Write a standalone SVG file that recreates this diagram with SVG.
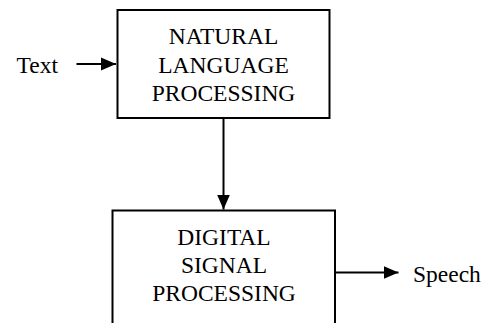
<svg xmlns="http://www.w3.org/2000/svg" width="487" height="323" viewBox="0 0 487 323">
<style>
.box{fill:#fff;stroke:#000;stroke-width:2}
.lbl{font-family:"Liberation Serif","Times New Roman",serif;font-size:23.5px;fill:#000}
.c{text-anchor:middle}
.conn{stroke:#000;stroke-width:2;fill:none}
</style>
<defs>
<marker id="ah" markerUnits="userSpaceOnUse" markerWidth="16" markerHeight="14" refX="15" refY="7" orient="auto">
<path d="M0,0.5 L15,7 L0,13.5 Z" fill="#000"/>
</marker>
</defs>
<rect width="487" height="323" fill="#fff"/>
<g id="nlp">
<rect class="box" x="117.5" y="10" width="212" height="108"/>
<text class="lbl c" x="223.5" y="44">NATURAL</text>
<text class="lbl c" x="223.5" y="73">LANGUAGE</text>
<text class="lbl c" x="223.5" y="101">PROCESSING</text>
</g>
<g id="dsp">
<rect class="box" x="112.5" y="210.5" width="222.5" height="130"/>
<text class="lbl c" x="224" y="245">DIGITAL</text>
<text class="lbl c" x="224" y="273">SIGNAL</text>
<text class="lbl c" x="224" y="301">PROCESSING</text>
</g>
<g id="text-in">
<text class="lbl" x="16.5" y="73.3">Text</text>
</g>
<g id="speech-out">
<text class="lbl" x="413" y="281.7">Speech</text>
</g>
<g id="connectors">
<line class="conn" x1="76.5" y1="64" x2="116" y2="64" marker-end="url(#ah)"/>
<line class="conn" x1="223.5" y1="118" x2="223.5" y2="209.5" marker-end="url(#ah)"/>
<line class="conn" x1="335" y1="272.5" x2="398.5" y2="272.5" marker-end="url(#ah)"/>
</g>
</svg>
